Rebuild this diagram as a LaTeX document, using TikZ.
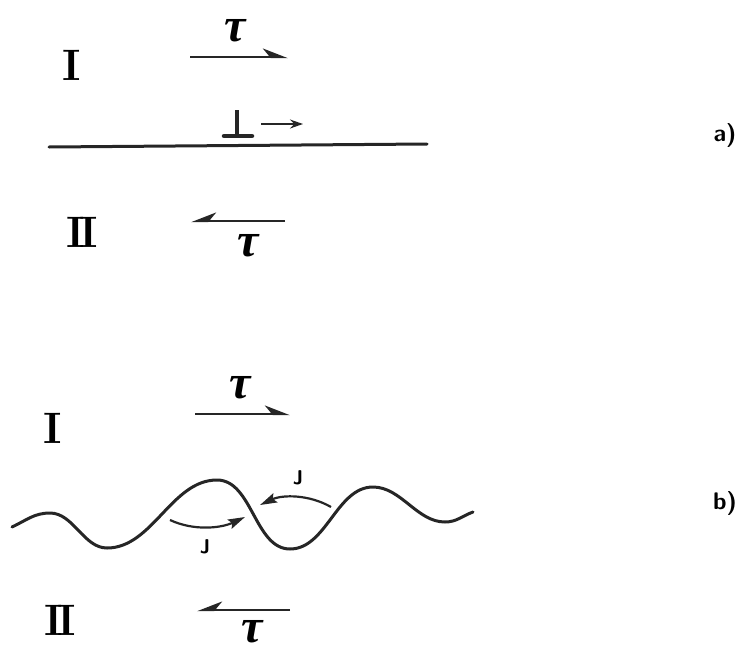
\documentclass[tikz,border=0pt]{standalone}
\usepackage{fontspec}
\newfontfamily\taufont{Liberation Serif}
\usetikzlibrary{arrows.meta}
\newcommand{\twoII}{I\kern-6pt I}
\tikzset{
  stress/.style={line width=2.4pt, black!85, -{Stealth[harpoon, length=22pt, width=17pt, inset=7pt]}},
  stressback/.style={line width=2.4pt, black!85, -{Stealth[harpoon, swap, length=22pt, width=17pt, inset=7pt]}},
  jump/.style={line width=2.2pt, black!85, -{Stealth[length=17pt, width=10pt, inset=3pt]}},
  grain/.style={line width=3pt, black!85, line cap=round},
  crystal/.style={font=\fontsize{44}{44}\selectfont\bfseries},
  shear/.style={inner sep=0pt, font=\fontsize{48}{48}\selectfont\taufont\bfseries\itshape},
  panel/.style={font=\fontsize{24}{24}\selectfont\sffamily\bfseries},
  jlabel/.style={font=\fontsize{20}{20}\selectfont\sffamily\bfseries}
}
\begin{document}
\begin{tikzpicture}[x=1pt, y=-1pt]
  \useasboundingbox (0,0) rectangle (746,648);
  % a) flat boundary
  \node[crystal] (Ia) at (72,65) {I};
  \node[crystal] (IIa) at (82,232) {\twoII};
  \node[shear] (taua) at (235,31) {τ};
  \node[shear] (taub) at (248,246) {τ};
  \node[panel] (la) at (725,135) {a)};
  \coordinate (a1) at (190,57); \coordinate (a2) at (288,57);
  \coordinate (a3) at (285,221); \coordinate (a4) at (191,221);
  \draw[stress] (a1) -- (a2);
  \draw[stressback] (a3) -- (a4);
  \coordinate (g1) at (49,147); \coordinate (g2) at (427,144);
  \draw[grain] (g1) -- (g2);
  % dislocation
  \coordinate (d1) at (237,110); \coordinate (d2) at (237,135);
  \coordinate (d3) at (224,136); \coordinate (d4) at (252,136);
  \coordinate (d5) at (261,124); \coordinate (d6) at (303,124);
  \draw[line width=3.5pt, black!85] (d1) -- (d2);
  \draw[line width=4.5pt, black!85, line cap=round] (d3) -- (d4);
  \draw[line width=1.6pt, black!85, -{Stealth[length=13pt, width=9pt]}] (d5) -- (d6);
  % b) wavy boundary
  \node[crystal] (Ib) at (53,428) {I};
  \node[crystal] (IIb) at (60,620) {\twoII};
  \node[shear] (tauc) at (240,388) {τ};
  \node[shear] (taud) at (252,632) {τ};
  \node[panel] (lb) at (725,503) {b)};
  \coordinate (b1) at (195,414); \coordinate (b2) at (290,414);
  \coordinate (b3) at (290,610); \coordinate (b4) at (197,610);
  \draw[stress] (b1) -- (b2);
  \draw[stressback] (b3) -- (b4);
  \draw[grain] (12,527) to[out=25, in=180] (50,513)
    to[out=0, in=180, looseness=0.9] (107,548)
    to[out=0, in=180, looseness=0.9] (217,480)
    to[out=0, in=180, looseness=0.9] (290,549)
    to[out=0, in=180, looseness=0.9] (373,487)
    to[out=0, in=180, looseness=0.9] (445,522)
    to[out=0, in=200] (473,512);
  \coordinate (j1) at (170,520); \coordinate (j2) at (245,517);
  \coordinate (j3) at (331,507); \coordinate (j4) at (260,505);
  \draw[jump] (j1) to[out=-25, in=-155, looseness=0.9] (j2);
  \draw[jump] (j3) to[out=150, in=25, looseness=0.9] (j4);
  \node[jlabel] (ja) at (205,547) {J};
  \node[jlabel] (jb) at (298,478) {J};
\end{tikzpicture}
\end{document}
